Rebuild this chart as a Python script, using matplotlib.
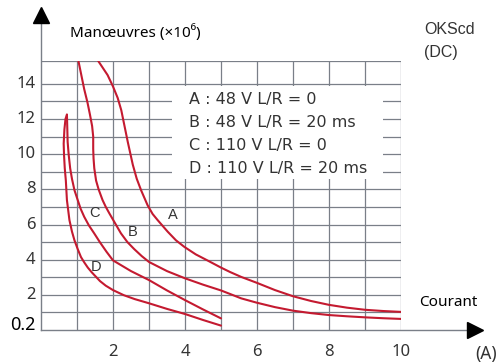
import matplotlib
matplotlib.use("Agg")
import matplotlib.pyplot as plt
from matplotlib.patches import Rectangle

# endurance curves, current (A) vs operations (x10^6)
a_x = [1.59, 1.72, 1.85, 2.0, 2.13, 2.23, 2.30, 2.36, 2.41, 2.48, 2.55, 2.66, 2.78, 2.96, 3.1,
       3.24, 3.52, 3.75, 3.98, 4.3, 4.63, 5.0, 5.25, 5.56, 6.0, 6.5, 7.0, 7.5, 8.0, 8.5, 9.0, 9.5, 10.0]
a_y = [15.3, 14.9, 14.5, 13.85, 13.2, 12.5, 11.8, 11.2, 10.7, 10.05, 9.4, 8.6, 7.95, 7.1, 6.6,
       6.25, 5.59, 5.1, 4.73, 4.3, 3.95, 3.55, 3.3, 3.02, 2.68, 2.27, 1.92, 1.65, 1.43, 1.27, 1.15, 1.08, 1.03]
b_x = [1.04, 1.12, 1.20, 1.29, 1.36, 1.42, 1.45, 1.45, 1.46, 1.48, 1.53, 1.60, 1.71, 1.80, 1.90,
       2.05, 2.22, 2.40, 2.59, 2.8, 3.0, 3.5, 4.0, 4.5, 5.0, 5.25, 5.56, 6.0, 6.5, 7.0, 7.5, 8.0,
       8.5, 9.0, 9.5, 10.0]
b_y = [15.3, 14.5, 13.7, 12.95, 12.25, 11.6, 11.0, 10.3, 9.75, 9.2, 8.5, 8.0, 7.39, 7.0, 6.63,
       6.1, 5.5, 5.0, 4.6, 4.2, 3.87, 3.35, 2.94, 2.58, 2.25, 2.05, 1.8, 1.55, 1.3, 1.1, 0.96, 0.85,
       0.78, 0.72, 0.67, 0.63]
c_x = [0.72, 0.73, 0.74, 0.77, 0.81, 0.86, 0.93, 1.02, 1.10, 1.20, 1.33, 1.48, 1.64, 1.82, 2.0,
       2.5, 3.0, 3.5, 4.0, 4.5, 5.0]
c_y = [12.25, 11.5, 10.7, 9.95, 9.2, 8.6, 7.95, 7.39, 6.9, 6.44, 5.95, 5.49, 4.98, 4.45, 3.96,
       3.35, 2.84, 2.25, 1.7, 1.17, 0.66]
d_x = [0.72, 0.68, 0.65, 0.63, 0.64, 0.66, 0.69, 0.72, 0.79, 0.86, 0.93, 1.02, 1.11, 1.20, 1.30,
       1.41, 1.53, 1.64, 1.8, 2.0, 2.3, 2.6, 3.0, 3.5, 4.0, 4.5, 5.0]
d_y = [12.25, 12.0, 11.4, 10.6, 9.94, 9.2, 8.5, 7.39, 6.25, 5.6, 5.1, 4.6, 4.15, 3.85, 3.55,
       3.28, 3.02, 2.78, 2.52, 2.27, 1.98, 1.76, 1.52, 1.2, 0.91, 0.57, 0.25]

curve_names = ["A", "B", "C", "D"]
name_pos = [(3.66, 6.55), (2.55, 5.6), (1.48, 6.65), (1.53, 3.6)]
legend_lines = ["A : 48 V L/R = 0", "B : 48 V L/R = 20 ms",
                "C : 110 V L/R = 0", "D : 110 V L/R = 20 ms"]
xticks = [2, 4, 6, 8, 10]
yticks = [2, 4, 6, 8, 10, 12, 14]

red = "#c41a30"
grid_c = "#7a7f88"
txt = "#333333"

fig = plt.figure(figsize=(4.96, 3.63), dpi=100)
ax = fig.add_axes([41 / 496, 33 / 363, 360 / 496, 269 / 363])
ax.set_xlim(0, 10)
ax.set_ylim(0, 15.3)
ax.axis("off")

# grid
for gx in range(1, 11):
    ax.plot([gx, gx], [0, 15.3], color=grid_c, lw=0.9, zorder=1)
for gy in list(range(1, 15)) + [15.3]:
    ax.plot([0, 10], [gy, gy], color=grid_c, lw=0.9, zorder=1)

# blank area behind the legend text
ax.add_patch(Rectangle((3.65, 8.6), 5.85, 5.3, facecolor="white", edgecolor="none", zorder=2))

# axes with arrows
ax.plot([0, 0], [0, 17.6], color=grid_c, lw=1.0, clip_on=False, zorder=3)
ax.plot([0, 11.9], [0, 0], color=grid_c, lw=1.0, clip_on=False, zorder=3)
ax.plot(0, 17.9, marker="^", ms=11, color="black", clip_on=False, zorder=4)
ax.plot(12.05, 0, marker=">", ms=11, color="black", clip_on=False, zorder=4)

for xs, ys in [(a_x, a_y), (b_x, b_y), (c_x, c_y), (d_x, d_y)]:
    ax.plot(xs, ys, color=red, lw=1.5, solid_capstyle="round", solid_joinstyle="round", zorder=5)

for name, (px, py) in zip(curve_names, name_pos):
    ax.text(px, py, name, fontsize=10.5, color=txt, ha="center", va="center",
            family="Liberation Sans", zorder=6)

for i, line in enumerate(legend_lines):
    ax.text(4.1, 13.1 - i * 1.3, line, fontsize=11.5, color=txt, va="center",
            family="DejaVu Sans", zorder=6)

for t in xticks:
    ax.text(t, -1.25, str(t), fontsize=12, color=txt, ha="center", va="center",
            family="Noto Sans", clip_on=False)
for t in yticks:
    ax.text(-0.15, t, str(t), fontsize=12, color=txt, ha="right", va="center",
            family="Noto Sans", clip_on=False)
ax.text(-0.15, 0.3, "0.2", fontsize=13, color="black", ha="right", va="center",
        family="Noto Sans", clip_on=False)

fig.text(70 / 496, 1 - 33 / 363, "Manœuvres (×10⁶)", fontsize=11, color="black",
         va="center", family="Noto Sans")
fig.text(424 / 496, 1 - 30 / 363, "OKScd", fontsize=11.5, color=txt, va="center",
         family="Liberation Sans")
fig.text(424 / 496, 1 - 52 / 363, "(DC)", fontsize=11.5, color=txt, va="center",
         family="Liberation Sans")
fig.text(419 / 496, 1 - 302 / 363, "Courant", fontsize=11, color="black", va="center",
         family="Noto Sans")
fig.text(475 / 496, 1 - 354 / 363, "(A)", fontsize=12.5, color=txt, va="center",
         family="Noto Sans")

fig.savefig("out.png", dpi=100)
